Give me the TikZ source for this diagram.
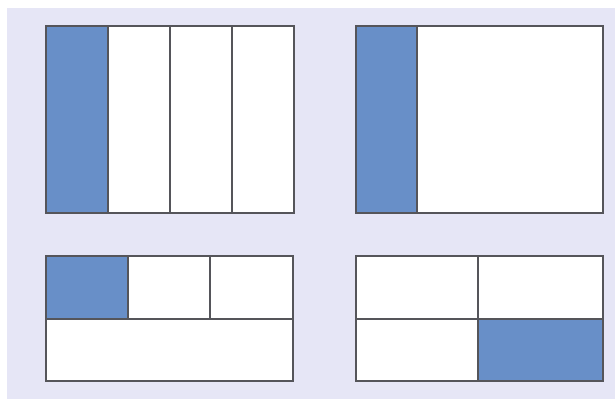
\documentclass[tikz,border=0pt]{standalone}
\usepackage{tikz}

\definecolor{pagebg}{RGB}{230,230,246}
\definecolor{partblue}{RGB}{104,143,200}
\definecolor{edgegray}{RGB}{85,85,90}

\begin{document}
\begin{tikzpicture}[
  x=0.02cm, y=-0.02cm,
  frame/.style={draw=edgegray, line width=0.7pt},
  cut/.style={draw=edgegray, line width=0.6pt},
  part/.style={fill=partblue}
]

%% ── page ────────────────────────────────────────────────────────────────
\fill[white] (0,0) rectangle (615,399);
\fill[pagebg] (7,8) rectangle (615,399);
\useasboundingbox (0,0) rectangle (615,399);

%% ── top left: quarters in strips ────────────────────────────────────────
\fill[white] (46,26) rectangle (294,213);
\fill[part]  (46,26) rectangle (108,213);
\foreach \cx in {108,170,232}
  \draw[cut] (\cx,26) -- (\cx,213);
\draw[frame] (46,26) rectangle (294,213);

%% ── top right: one strip only ───────────────────────────────────────────
\fill[white] (356,26) rectangle (603,213);
\fill[part]  (356,26) rectangle (417,213);
\draw[cut]   (417,26) -- (417,213);
\draw[frame] (356,26) rectangle (603,213);

%% ── bottom left: three small, one wide ──────────────────────────────────
\fill[white] (46,256) rectangle (293,381);
\fill[part]  (46,256) rectangle (128,319);
\draw[cut]   (46,319) -- (293,319);
\foreach \cx in {128,210}
  \draw[cut] (\cx,256) -- (\cx,319);
\draw[frame] (46,256) rectangle (293,381);

%% ── bottom right: four equal parts ──────────────────────────────────────
\fill[white] (356,256) rectangle (603,381);
\fill[part]  (478,319) rectangle (603,381);
\draw[cut]   (356,319) -- (603,319);
\draw[cut]   (478,256) -- (478,381);
\draw[frame] (356,256) rectangle (603,381);

\end{tikzpicture}
\end{document}
